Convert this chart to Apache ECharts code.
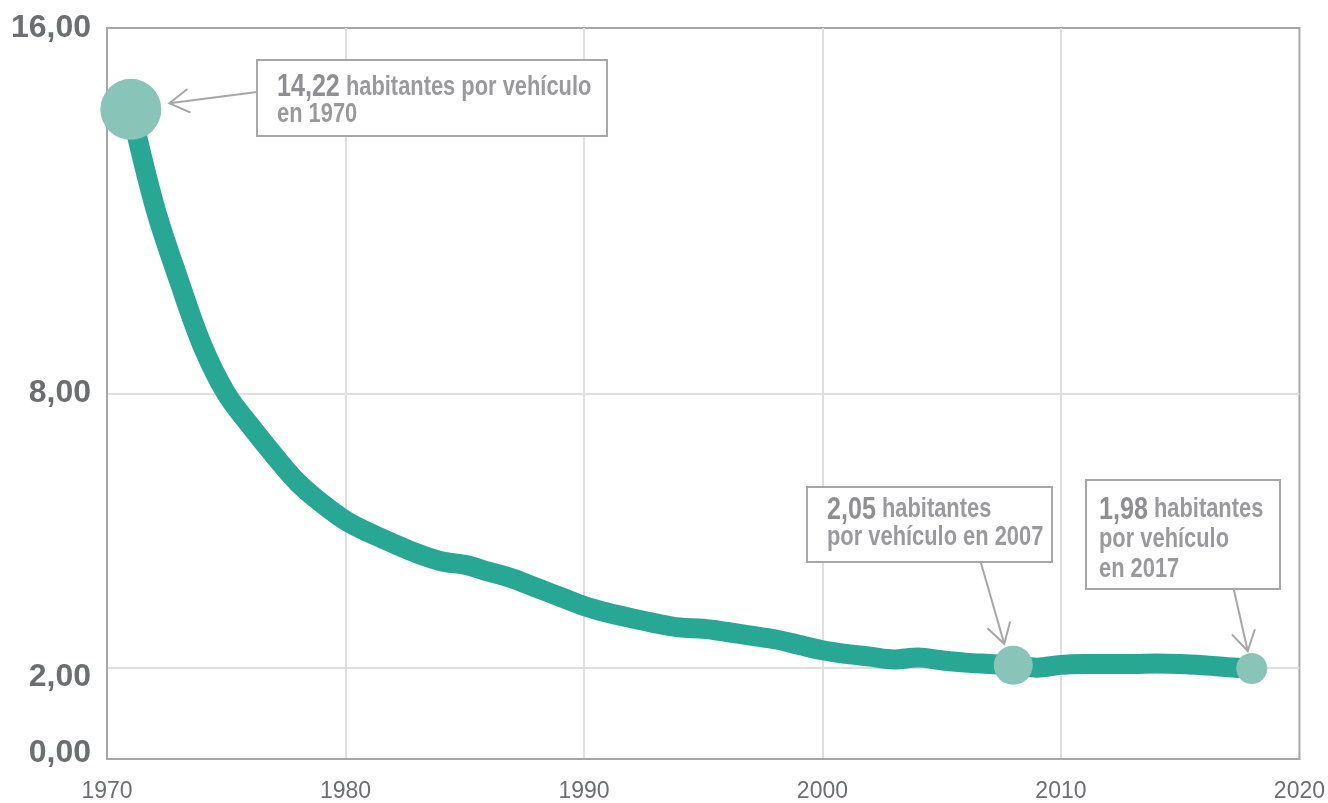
<!DOCTYPE html>
<html>
<head>
<meta charset="utf-8">
<script src="https://cdn.jsdelivr.net/npm/echarts@6/dist/echarts.min.js"></script>
<style>
  html, body { margin: 0; padding: 0; background: #ffffff; }
  #chart { width: 1328px; height: 803px; }
</style>
</head>
<body>
<div id="chart"></div>
<script>
// Inhabitants per vehicle, yearly figures
const years = [
  1970, 1971, 1972, 1973, 1974, 1975, 1976, 1977, 1978, 1979,
  1980, 1981, 1982, 1983, 1984, 1985, 1986, 1987, 1988, 1989,
  1990, 1991, 1992, 1993, 1994, 1995, 1996, 1997, 1998, 1999,
  2000, 2001, 2002, 2003, 2004, 2005, 2006, 2007, 2008, 2009,
  2010, 2011, 2012, 2013, 2014, 2015, 2016, 2017
];
const ratio = [
  14.22, 12.10, 10.50, 9.05, 8.00, 7.30, 6.65, 6.05, 5.60, 5.22,
  4.95, 4.72, 4.50, 4.33, 4.25, 4.10, 3.95, 3.75, 3.55, 3.35,
  3.20, 3.08, 2.97, 2.88, 2.85, 2.78, 2.70, 2.62, 2.50, 2.38,
  2.30, 2.24, 2.18, 2.22, 2.16, 2.11, 2.08, 2.05, 2.00, 2.06,
  2.08, 2.08, 2.08, 2.09, 2.08, 2.05, 2.01, 1.98
];

// Axis tick labels
const yTickLabels = [0, 2, 8, 16];
const yGridValues = [2, 8];
const xTickLabels = [1970, 1980, 1990, 2000, 2010, 2020];
const xGridValues = [1980, 1990, 2000, 2010];

// Highlighted years and their callout wording
const highlightYears = [1970, 2007, 2017];
const highlightSizes = [61, 39, 31];
const calloutLines = [
  ['habitantes por vehículo', 'en 1970'],
  ['habitantes', 'por vehículo en 2007'],
  ['habitantes', 'por vehículo', 'en 2017']
];

const fmt = v => v.toFixed(2).replace('.', ',');
// Each figure is the count at 31 December, so it sits at the end of its year
const xPos = y => y + 1;

const TEAL = '#27a794';
const TEAL_LIGHT = '#88c4b8';
const AXIS = '#a7a7a9';
const GRID = '#dfdfe0';
const LABEL = '#6d6e71';
const NOTE = '#9a9a9e';
const SANS = "'Liberation Sans', 'Roboto', sans-serif";

const lineData = years.map((y, i) => [xPos(y), ratio[i]]);
const highlightData = highlightYears.map(y => [xPos(y), ratio[years.indexOf(y)]]);

const chart = echarts.init(document.getElementById('chart'), null, { renderer: 'canvas' });

const yLabelStyle = { fontSize: 32, fontWeight: 'bold', fontFamily: SANS, color: LABEL };

chart.setOption({
  animation: false,
  backgroundColor: '#ffffff',
  grid: {
    left: 107, right: 26, top: 28, bottom: 43,
    show: true, borderColor: AXIS, borderWidth: 2, backgroundColor: 'transparent'
  },
  xAxis: {
    type: 'value',
    min: 1970, max: 2020, interval: 10,
    axisLine: { show: true, lineStyle: { color: AXIS, width: 2 } },
    axisTick: { show: false, customValues: xGridValues },
    splitLine: { show: true, lineStyle: { color: GRID, width: 2 } },
    axisLabel: {
      customValues: xTickLabels,
      formatter: v => String(v),
      color: LABEL, fontSize: 23, fontFamily: SANS, margin: 21
    }
  },
  yAxis: {
    type: 'value',
    min: 0, max: 16,
    axisLine: { show: true, lineStyle: { color: AXIS, width: 2 } },
    axisTick: { show: false, customValues: yGridValues },
    splitLine: { show: true, lineStyle: { color: GRID, width: 2 } },
    axisLabel: {
      customValues: yTickLabels,
      formatter: v => (v === 0 ? '{lo|' : v === 2 ? '{hi|' : '{m|') + fmt(v) + '}',
      color: LABEL, fontSize: 32, fontWeight: 'bold', fontFamily: SANS, margin: 16,
      rich: {
        m: yLabelStyle,
        lo: Object.assign({ padding: [0, 0, 12, 0] }, yLabelStyle),
        hi: Object.assign({ padding: [20, 0, 0, 0] }, yLabelStyle)
      }
    }
  },
  series: [
    {
      type: 'line',
      data: lineData,
      smooth: 0.35,
      showSymbol: false,
      z: 2,
      lineStyle: { color: TEAL, width: 20, cap: 'round', join: 'round' }
    },
    {
      type: 'scatter',
      data: highlightData,
      symbol: 'circle',
      symbolSize: (val, p) => highlightSizes[p.dataIndex],
      z: 3,
      itemStyle: { color: TEAL_LIGHT, opacity: 1 }
    }
  ]
});

// Callout boxes with arrows pointing at the highlighted points
const boxes = [
  { x: 257, y: 60, w: 350, h: 76, padX: 20, padY: 14, lh: 27 },
  { x: 807, y: 487, w: 245, h: 75, padX: 20, padY: 9, lh: 28 },
  { x: 1086, y: 480, w: 194, h: 109, padX: 13, padY: 15, lh: 30 }
];

function arrowHead(x1, y1, x2, y2) {
  const ang = Math.atan2(y2 - y1, x2 - x1);
  const L = 23, spread = 0.54;
  const a1 = ang + Math.PI - spread, a2 = ang + Math.PI + spread;
  return [
    [x2 + L * Math.cos(a1), y2 + L * Math.sin(a1)],
    [x2, y2],
    [x2 + L * Math.cos(a2), y2 + L * Math.sin(a2)]
  ];
}

const graphics = [];
highlightData.forEach((pt, i) => {
  const [cx, cy] = chart.convertToPixel({ gridIndex: 0 }, pt);
  const r = highlightSizes[i] / 2;
  const b = boxes[i];
  let tip, start;
  if (i === 0) {
    tip = [cx + r + 8, cy - 6];
    start = [b.x, b.y + 32];
  } else {
    const dir = i === 1 ? [23, 80] : [14, 62];
    tip = [cx - (i === 1 ? 9 : 4), cy - r - 2];
    const by = b.y + b.h;
    start = [tip[0] - (tip[1] - by) * dir[0] / dir[1], by];
  }
  graphics.push({
    type: 'line', z: 10,
    shape: { x1: start[0], y1: start[1], x2: tip[0], y2: tip[1] },
    style: { stroke: AXIS, lineWidth: 2 }
  });
  graphics.push({
    type: 'polyline', z: 10,
    shape: { points: arrowHead(start[0], start[1], tip[0], tip[1]) },
    style: { stroke: AXIS, lineWidth: 2, fill: null }
  });
  graphics.push({
    type: 'rect', z: 11,
    shape: { x: b.x, y: b.y, width: b.w, height: b.h },
    style: { fill: '#ffffff', stroke: AXIS, lineWidth: 2 }
  });
  const lines = calloutLines[i];
  const text = '{n|' + fmt(highlightData[i][1]) + '}{t| ' + lines[0] + '}' +
    lines.slice(1).map(l => '\n{t|' + l + '}').join('');
  graphics.push({
    type: 'text', z: 12,
    x: b.x + b.padX, y: b.y + b.padY,
    scaleX: 0.81,
    style: {
      text: text,
      fill: NOTE,
      verticalAlign: 'top',
      align: 'left',
      rich: {
        n: { fontFamily: SANS, fontWeight: 'bold', fontSize: 31, lineHeight: b.lh, fill: '#8f8f93' },
        t: { fontFamily: SANS, fontWeight: 'bold', fontSize: 27, lineHeight: b.lh, fill: NOTE }
      }
    }
  });
});

chart.setOption({ graphic: graphics });
</script>
</body>
</html>
